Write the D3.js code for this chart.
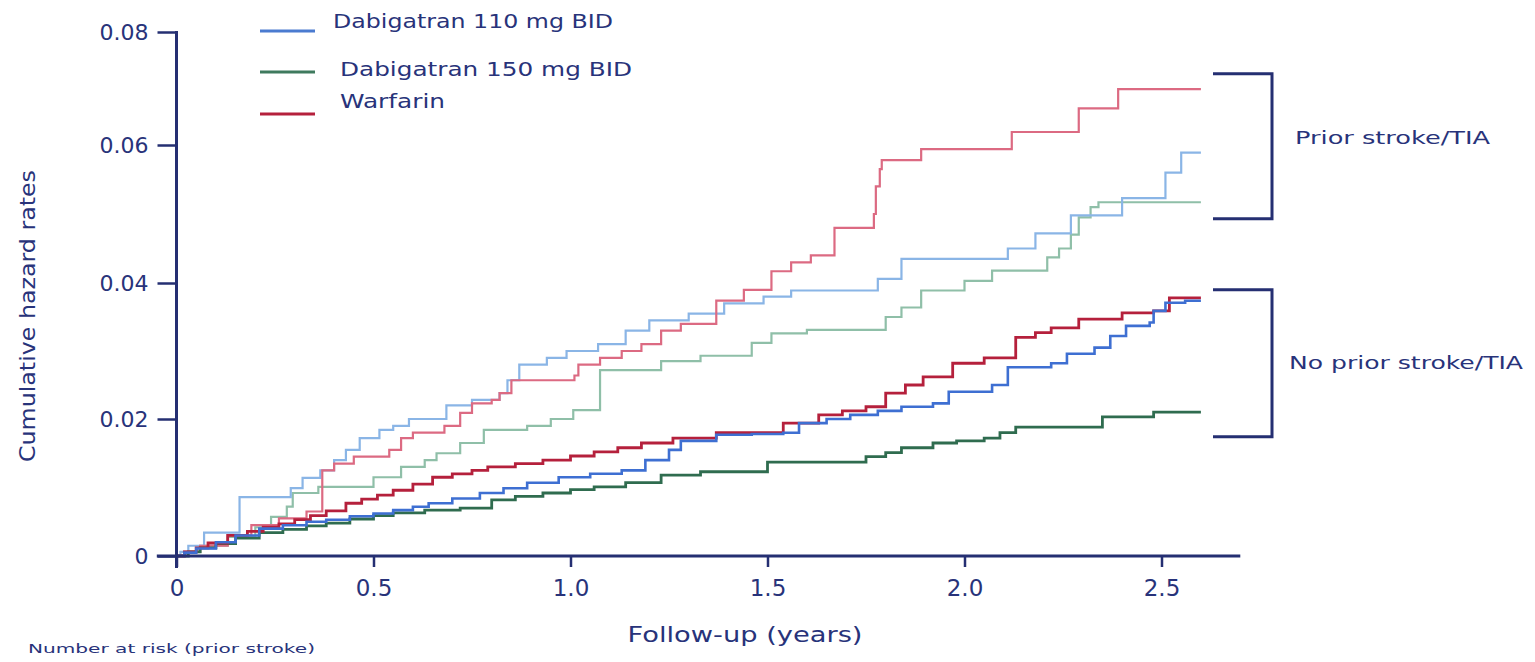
<!DOCTYPE html>
<html>
<head>
<meta charset="utf-8">
<script src="https://cdn.jsdelivr.net/npm/d3@7"></script>
<style>
  html, body { margin: 0; padding: 0; background: #ffffff; }
  svg { display: block; }
  text { font-family: "DejaVu Sans", Verdana, sans-serif; fill: #28337a; }
</style>
</head>
<body>
<svg id="chart" width="1535" height="662"></svg>
<script>
// ---------- DATA ----------
const seriesNames = ["Dabigatran 110 mg BID", "Dabigatran 150 mg BID", "Warfarin"];
const groupLabels = ["Prior stroke/TIA", "No prior stroke/TIA"];
const xTickValues = [0, 0.5, 1.0, 1.5, 2.0, 2.5];
const xTickLabels = ["0", "0.5", "1.0", "1.5", "2.0", "2.5"];
const yTickValues = [0, 0.02, 0.04, 0.06, 0.08];
const yTickLabels = ["0", "0.02", "0.04", "0.06", "0.08"];

// Prior stroke/TIA  [years, cumulative hazard]
const dab110Prior = [[0,0],[0.01,0.0006],[0.03,0.0015],[0.07,0.0034],[0.16,0.0086],[0.29,0.0099],[0.32,0.0114],[0.365,0.0125],[0.40,0.014],[0.43,0.0155],[0.465,0.0172],[0.515,0.0184],[0.55,0.019],[0.59,0.020],[0.685,0.022],[0.75,0.0228],[0.82,0.0238],[0.84,0.0257],[0.87,0.028],[0.94,0.029],[0.99,0.030],[1.07,0.031],[1.14,0.033],[1.2,0.0345],[1.3,0.0355],[1.39,0.037],[1.49,0.038],[1.56,0.0389],[1.78,0.0406],[1.84,0.0435],[2.11,0.045],[2.18,0.0472],[2.27,0.0498],[2.40,0.0523],[2.51,0.056],[2.55,0.0589],[2.6,0.0589]];
const dab150Prior = [[0,0],[0.02,0.0006],[0.06,0.0015],[0.13,0.0028],[0.2,0.0042],[0.24,0.0057],[0.28,0.0072],[0.295,0.0092],[0.36,0.0101],[0.5,0.0115],[0.57,0.013],[0.63,0.014],[0.66,0.015],[0.72,0.0165],[0.78,0.0184],[0.89,0.019],[0.95,0.020],[1.007,0.0213],[1.075,0.0272],[1.23,0.0285],[1.33,0.0293],[1.46,0.0312],[1.51,0.0326],[1.60,0.0331],[1.80,0.035],[1.84,0.0364],[1.89,0.0389],[2.0,0.0403],[2.07,0.0418],[2.21,0.0437],[2.24,0.045],[2.27,0.047],[2.29,0.0495],[2.32,0.051],[2.34,0.0517],[2.6,0.0517]];
const warPrior = [[0,0],[0.02,0.0006],[0.06,0.0015],[0.13,0.003],[0.19,0.0045],[0.26,0.0055],[0.33,0.0065],[0.37,0.0125],[0.40,0.0135],[0.45,0.0145],[0.54,0.0155],[0.57,0.0172],[0.60,0.018],[0.68,0.019],[0.72,0.0209],[0.75,0.0223],[0.80,0.0228],[0.82,0.0238],[0.85,0.0257],[1.01,0.0264],[1.02,0.028],[1.075,0.029],[1.13,0.030],[1.18,0.031],[1.23,0.033],[1.28,0.034],[1.37,0.0374],[1.44,0.039],[1.51,0.0417],[1.56,0.043],[1.61,0.044],[1.67,0.048],[1.77,0.050],[1.775,0.054],[1.785,0.0565],[1.79,0.0578],[1.89,0.0594],[2.12,0.0623],[2.29,0.0665],[2.39,0.0699],[2.6,0.0699]];

// No prior stroke/TIA
const dab110NoPrior = [[0,0],[0.02,0.0005],[0.05,0.0011],[0.1,0.002],[0.15,0.003],[0.21,0.004],[0.27,0.0045],[0.33,0.005],[0.38,0.0053],[0.44,0.0058],[0.5,0.0062],[0.55,0.0067],[0.6,0.0072],[0.64,0.0077],[0.7,0.0084],[0.77,0.0092],[0.83,0.0099],[0.89,0.0107],[0.97,0.0115],[1.05,0.012],[1.13,0.0125],[1.19,0.014],[1.25,0.0155],[1.28,0.0168],[1.37,0.0177],[1.46,0.0178],[1.54,0.018],[1.58,0.0194],[1.65,0.02],[1.71,0.0206],[1.78,0.0212],[1.84,0.0218],[1.92,0.0223],[1.96,0.024],[2.07,0.025],[2.11,0.0276],[2.22,0.0282],[2.26,0.0296],[2.33,0.0305],[2.37,0.0322],[2.41,0.0337],[2.47,0.0342],[2.48,0.0359],[2.51,0.0371],[2.56,0.0374],[2.6,0.0374]];
const dab150NoPrior = [[0,0],[0.03,0.0006],[0.06,0.0012],[0.1,0.0018],[0.15,0.0026],[0.21,0.0034],[0.27,0.0039],[0.33,0.0044],[0.38,0.0048],[0.44,0.0054],[0.5,0.0059],[0.55,0.0063],[0.63,0.0067],[0.72,0.007],[0.8,0.0082],[0.86,0.0087],[0.93,0.0092],[1.0,0.0097],[1.06,0.0101],[1.14,0.0107],[1.23,0.0118],[1.33,0.0123],[1.5,0.0137],[1.75,0.0145],[1.8,0.0151],[1.84,0.0158],[1.92,0.0165],[1.98,0.0168],[2.05,0.0172],[2.09,0.018],[2.13,0.0188],[2.35,0.0203],[2.48,0.021],[2.6,0.021]];
const warNoPrior = [[0,0],[0.02,0.0006],[0.05,0.0012],[0.08,0.0019],[0.13,0.003],[0.18,0.0036],[0.22,0.0042],[0.26,0.0047],[0.3,0.0053],[0.34,0.0059],[0.38,0.0066],[0.43,0.0077],[0.47,0.0083],[0.51,0.0089],[0.55,0.0096],[0.6,0.0105],[0.65,0.0115],[0.7,0.012],[0.75,0.0125],[0.79,0.013],[0.86,0.0135],[0.93,0.014],[1.0,0.0146],[1.06,0.0152],[1.12,0.0158],[1.18,0.0165],[1.26,0.0172],[1.37,0.018],[1.54,0.0194],[1.63,0.0206],[1.69,0.0212],[1.75,0.0218],[1.80,0.0238],[1.85,0.025],[1.895,0.0262],[1.97,0.0282],[2.05,0.029],[2.13,0.032],[2.18,0.0327],[2.22,0.0334],[2.29,0.0347],[2.40,0.0356],[2.48,0.0359],[2.52,0.0378],[2.6,0.0378]];

// bracket extents (hazard values)
const priorBracket = [0.0726, 0.0493];
const noPriorBracket = [0.039, 0.0174];

// ---------- DRAWING ----------
const svg = d3.select("#chart");
const navy = "#252f72";

const x = d3.scaleLinear().domain([0, 2.5]).range([176.5, 1161.5]);
const y = d3.scaleLinear().domain(yTickValues).range([556, 419, 283, 145, 32]);

// Lines
const line = d3.line().x(d => x(d[0])).y(d => y(d[1])).curve(d3.curveStepAfter);
const lines = [
  {data: dab150Prior, color: "#8fbfa8", w: 2.2},
  {data: dab110Prior, color: "#8ab5e6", w: 2.2},
  {data: warPrior, color: "#dc6a82", w: 2.2},
  {data: dab150NoPrior, color: "#2f6c4f", w: 2.8},
  {data: warNoPrior, color: "#b5203c", w: 2.8},
  {data: dab110NoPrior, color: "#3e6fd2", w: 2.6}
];
svg.append("g").selectAll("path").data(lines).join("path")
  .attr("d", d => line(d.data))
  .attr("fill", "none")
  .attr("stroke", d => d.color)
  .attr("stroke-width", d => d.w)
  .attr("stroke-linejoin", "miter");

// Y axis
const yAxis = d3.axisLeft(y).tickValues(yTickValues).tickSize(19).tickPadding(9)
  .tickFormat((d, i) => yTickLabels[i]);
const gy = svg.append("g").attr("transform", `translate(${x(0)},0)`).call(yAxis);
gy.select(".domain").remove();
gy.selectAll(".tick line").attr("stroke", navy).attr("stroke-width", 2.5);
gy.selectAll(".tick text").attr("font-size", 22).attr("fill", "#28337a")
  .style("font-family", "'DejaVu Sans', Verdana, sans-serif");
svg.append("line")
  .attr("x1", x(0)).attr("x2", x(0))
  .attr("y1", y(0.08) - 1).attr("y2", y(0) + 12)
  .attr("stroke", navy).attr("stroke-width", 3);

// X axis
const xAxis = d3.axisBottom(x).tickValues(xTickValues).tickSize(11).tickPadding(13)
  .tickFormat((d, i) => xTickLabels[i]);
const gx = svg.append("g").attr("transform", `translate(0,${y(0)})`).call(xAxis);
gx.select(".domain").remove();
gx.selectAll(".tick line").attr("stroke", navy).attr("stroke-width", 2.5);
gx.selectAll(".tick text").attr("font-size", 23).attr("fill", "#28337a")
  .style("font-family", "'DejaVu Sans', Verdana, sans-serif");
svg.append("line")
  .attr("x1", x(-0.05)).attr("x2", x(2.7))
  .attr("y1", y(0)).attr("y2", y(0))
  .attr("stroke", navy).attr("stroke-width", 3);

// Axis titles
svg.append("text")
  .attr("x", 745).attr("y", 642)
  .attr("text-anchor", "middle")
  .attr("font-size", 22)
  .attr("textLength", 235).attr("lengthAdjust", "spacingAndGlyphs")
  .text("Follow-up (years)");
svg.append("text")
  .attr("transform", "translate(35,316) rotate(-90)")
  .attr("text-anchor", "middle")
  .attr("font-size", 21)
  .attr("textLength", 292).attr("lengthAdjust", "spacingAndGlyphs")
  .text("Cumulative hazard rates");
svg.append("text")
  .attr("x", 28).attr("y", 653)
  .attr("font-size", 13)
  .attr("textLength", 287).attr("lengthAdjust", "spacingAndGlyphs")
  .text("Number at risk (prior stroke)");

// Legend
const legend = [
  {name: seriesNames[0], color: "#4a7bd0", ly: 31, tx: 333, ty: 28, tl: 280},
  {name: seriesNames[1], color: "#3f7a5e", ly: 72, tx: 340, ty: 76, tl: 292},
  {name: seriesNames[2], color: "#b5203c", ly: 114, tx: 340, ty: 108, tl: 105}
];
const lg = svg.append("g");
lg.selectAll("line").data(legend).join("line")
  .attr("x1", 260).attr("x2", 315)
  .attr("y1", d => d.ly).attr("y2", d => d.ly)
  .attr("stroke", d => d.color).attr("stroke-width", 3);
lg.selectAll("text").data(legend).join("text")
  .attr("x", d => d.tx).attr("y", d => d.ty)
  .attr("font-size", 19)
  .attr("textLength", d => d.tl).attr("lengthAdjust", "spacingAndGlyphs")
  .text(d => d.name);

// Brackets
const brackets = [
  {v: priorBracket, label: groupLabels[0], lx: 1295, ly: 144, tl: 195},
  {v: noPriorBracket, label: groupLabels[1], lx: 1289, ly: 369, tl: 234}
];
const bx0 = 1213, bx1 = 1272;
svg.append("g").selectAll("path").data(brackets).join("path")
  .attr("d", d => `M${bx0},${y(d.v[0])}H${bx1}V${y(d.v[1])}H${bx0}`)
  .attr("fill", "none").attr("stroke", navy).attr("stroke-width", 3);
svg.append("g").selectAll("text").data(brackets).join("text")
  .attr("x", d => d.lx).attr("y", d => d.ly)
  .attr("font-size", 18)
  .attr("textLength", d => d.tl).attr("lengthAdjust", "spacingAndGlyphs")
  .text(d => d.label);
</script>
</body>
</html>
